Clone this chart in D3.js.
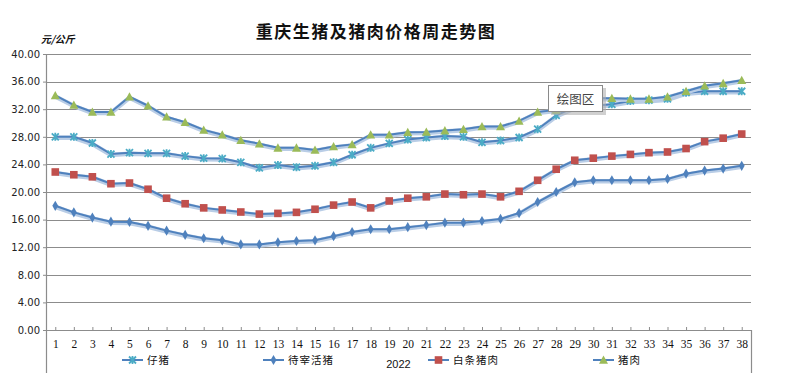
<!DOCTYPE html>
<html>
<head>
<meta charset="utf-8">
<script src="https://cdn.jsdelivr.net/npm/d3@7"></script>
<style>
  body { margin: 0; background: #fff; }
  svg { display: block; }
</style>
</head>
<body>
<svg id="chart"></svg>
<script>
// weeks of 2022
const weeks = [1, 2, 3, 4, 5, 6, 7, 8, 9, 10, 11, 12, 13, 14, 15, 16, 17, 18, 19,
  20, 21, 22, 23, 24, 25, 26, 27, 28, 29, 30, 31, 32, 33, 34, 35, 36, 37, 38];
const yTicks = [0, 4, 8, 12, 16, 20, 24, 28, 32, 36, 40];
const seriesNames = ["仔猪", "待宰活猪", "白条猪肉", "猪肉"];

const piglet = [28.0, 28.0, 27.1, 25.5, 25.7, 25.6, 25.6, 25.2, 24.9, 24.85, 24.3, 23.5, 23.9,
  23.6, 23.8, 24.3, 25.4, 26.4, 27.05, 27.6, 27.9, 28.1, 28.0, 27.2, 27.45, 27.9, 29.1, 31.1,
  32.3, 32.5, 32.7, 33.2, 33.3, 33.5, 34.4, 34.6, 34.6, 34.6];
const liveHog = [18.0, 17.05, 16.3, 15.7, 15.65, 15.1, 14.4, 13.8, 13.3, 13.0, 12.4, 12.4, 12.7,
  12.9, 13.0, 13.6, 14.2, 14.6, 14.6, 14.9, 15.2, 15.55, 15.55, 15.8, 16.1, 16.95, 18.55, 20.0,
  21.4, 21.7, 21.7, 21.7, 21.7, 21.9, 22.65, 23.1, 23.4, 23.8];
const carcass = [22.9, 22.5, 22.2, 21.2, 21.3, 20.4, 19.1, 18.3, 17.7, 17.4, 17.1, 16.8, 16.9,
  17.05, 17.5, 18.1, 18.55, 17.7, 18.7, 19.1, 19.3, 19.7, 19.6, 19.7, 19.3, 20.1, 21.7, 23.3,
  24.6, 24.9, 25.2, 25.45, 25.7, 25.8, 26.3, 27.3, 27.8, 28.4];
const pork = [34.0, 32.6, 31.6, 31.6, 33.8, 32.5, 30.9, 30.1, 29.0, 28.3, 27.5, 27.0, 26.4,
  26.4, 26.1, 26.6, 26.9, 28.3, 28.3, 28.65, 28.7, 28.9, 29.1, 29.5, 29.5, 30.3, 31.6, 31.9,
  32.8, 33.6, 33.6, 33.5, 33.5, 33.8, 34.6, 35.4, 35.75, 36.2];

const W = 790, H = 391;
const margin = { top: 54, right: 39, bottom: 61, left: 46 };
const width = W - margin.left - margin.right;
const height = H - margin.top - margin.bottom;

const svg = d3.select("#chart").attr("width", W).attr("height", H);
const g = svg.append("g")
  .attr("transform", "translate(" + margin.left + "," + margin.top + ")");

const xScale = d3.scalePoint().domain(weeks).range([0, width]).padding(0.5);
const yScale = d3.scaleLinear().domain([0, 40]).range([height, 0]);

const gridColor = "#8c8c8c";
const lineColor = "#4f81bd";

// gridlines
g.selectAll(".grid")
  .data(yTicks.filter(function (d) { return d > 0; }))
  .enter()
  .append("line")
  .attr("x1", 0)
  .attr("x2", width)
  .attr("y1", function (d) { return Math.round(yScale(d)) + 0.5; })
  .attr("y2", function (d) { return Math.round(yScale(d)) + 0.5; })
  .attr("stroke", gridColor)
  .attr("stroke-width", 1.2);

// y axis
const yAxis = d3.axisLeft(yScale).tickValues(yTicks).tickSize(3).tickFormat(d3.format(".2f"));
const yAxisG = g.append("g").call(yAxis);
yAxisG.select(".domain").remove();
yAxisG.selectAll("line").attr("stroke", gridColor);
yAxisG.selectAll("text")
  .attr("x", -6)
  .style("font-family", "'DejaVu Sans', sans-serif")
  .style("font-size", "10px")
  .attr("fill", "#222");

// axis lines
g.append("line").attr("x1", 0.5).attr("x2", 0.5).attr("y1", 0).attr("y2", height + 43)
  .attr("stroke", gridColor).attr("stroke-width", 1.2);
g.append("line").attr("x1", width + 0.5).attr("x2", width + 0.5).attr("y1", height).attr("y2", height + 43)
  .attr("stroke", gridColor).attr("stroke-width", 1.2);
g.append("line").attr("x1", 0).attr("x2", width).attr("y1", height + 0.5).attr("y2", height + 0.5)
  .attr("stroke", gridColor).attr("stroke-width", 1.2);

// x axis
const xAxis = d3.axisBottom(xScale).tickSize(-3).tickPadding(10);
const xAxisG = g.append("g").attr("transform", "translate(0," + height + ")").call(xAxis);
xAxisG.select(".domain").remove();
xAxisG.selectAll("line").attr("stroke", gridColor);
xAxisG.selectAll("text")
  .style("font-family", "'Liberation Serif', serif")
  .style("font-size", "11.5px")
  .attr("fill", "#111");

g.append("text")
  .attr("x", width / 2)
  .attr("y", height + 38)
  .attr("text-anchor", "middle")
  .style("font-family", "'Liberation Sans', sans-serif")
  .style("font-size", "11px")
  .attr("fill", "#111")
  .text("2022");

// markers
function drawMarker(sel, type) {
  if (type === "star") {
    sel.append("path")
      .attr("d", "M-3.5,-3.5L3.5,3.5M-3.5,3.5L3.5,-3.5M0,-4V4")
      .attr("stroke", "#4bacc6").attr("stroke-width", 1.8).attr("fill", "none");
  } else if (type === "diamond") {
    sel.append("path").attr("d", d3.symbol(d3.symbolDiamond, 30)()).attr("fill", lineColor);
  } else if (type === "square") {
    sel.append("rect").attr("x", -3.8).attr("y", -3.8).attr("width", 7.6).attr("height", 7.6)
      .attr("fill", "#c0504d");
  } else {
    sel.append("path").attr("d", "M0,-4.5L4.5,3.8L-4.5,3.8Z").attr("fill", "#9bbb59");
  }
}

const series = [
  { name: seriesNames[0], values: piglet, marker: "star" },
  { name: seriesNames[1], values: liveHog, marker: "diamond" },
  { name: seriesNames[2], values: carcass, marker: "square" },
  { name: seriesNames[3], values: pork, marker: "triangle" }
];

const line = d3.line()
  .x(function (d, i) { return xScale(weeks[i]); })
  .y(function (d) { return yScale(d); });

series.forEach(function (s) {
  g.append("path").datum(s.values).attr("d", line)
    .attr("fill", "none").attr("stroke", "#b9cde6").attr("stroke-width", 4.5)
    .attr("transform", "translate(0,1)");
  g.append("path").datum(s.values).attr("d", line)
    .attr("fill", "none").attr("stroke", lineColor).attr("stroke-width", 2);
});

series.forEach(function (s) {
  g.selectAll(null)
    .data(s.values)
    .enter()
    .append("g")
    .attr("transform", function (d, i) {
      return "translate(" + xScale(weeks[i]) + "," + yScale(d) + ")";
    })
    .each(function () { drawMarker(d3.select(this), s.marker); });
});

// legend
const legendX = [122, 263, 428, 593];
const legend = svg.append("g");
series.forEach(function (s, i) {
  const lg = legend.append("g").attr("transform", "translate(" + legendX[i] + ",360)");
  lg.append("line").attr("x1", 0).attr("x2", 21).attr("y1", 0).attr("y2", 0)
    .attr("stroke", lineColor).attr("stroke-width", 2);
  drawMarker(lg.append("g").attr("transform", "translate(10.5,0)"), s.marker);
  lg.append("text")
    .attr("x", 25)
    .attr("y", 4)
    .style("font-family", "'Noto Sans CJK SC', sans-serif")
    .style("font-size", "10.5px")
    .style("letter-spacing", "1px")
    .attr("fill", "#111")
    .text(s.name);
});

// title and unit
svg.append("text")
  .attr("x", 376)
  .attr("y", 38)
  .attr("text-anchor", "middle")
  .style("font-family", "'Noto Sans CJK SC', sans-serif")
  .style("font-size", "17px")
  .style("font-weight", "bold")
  .style("letter-spacing", "1.5px")
  .attr("fill", "#111")
  .text("重庆生猪及猪肉价格周走势图");

svg.append("text")
  .attr("x", 41)
  .attr("y", 43)
  .style("font-family", "'Noto Sans CJK SC', sans-serif")
  .style("font-size", "10px")
  .style("font-weight", "bold")
  .style("font-style", "italic")
  .attr("fill", "#111")
  .text("元/公斤");

// plot area hover label
const tip = svg.append("g").attr("transform", "translate(548,85)");
tip.append("rect").attr("x", 3).attr("y", 3).attr("width", 55).attr("height", 27)
  .attr("fill", "#b0b0b0").attr("opacity", 0.6);
tip.append("rect").attr("x", 0.5).attr("y", 0.5).attr("width", 54).attr("height", 26)
  .attr("fill", "#fff").attr("stroke", "#8a8a8a");
tip.append("text")
  .attr("x", 27.5).attr("y", 18.5).attr("text-anchor", "middle")
  .style("font-family", "'Noto Sans CJK SC', sans-serif")
  .style("font-size", "12.5px")
  .attr("fill", "#444")
  .text("绘图区");
</script>
</body>
</html>
